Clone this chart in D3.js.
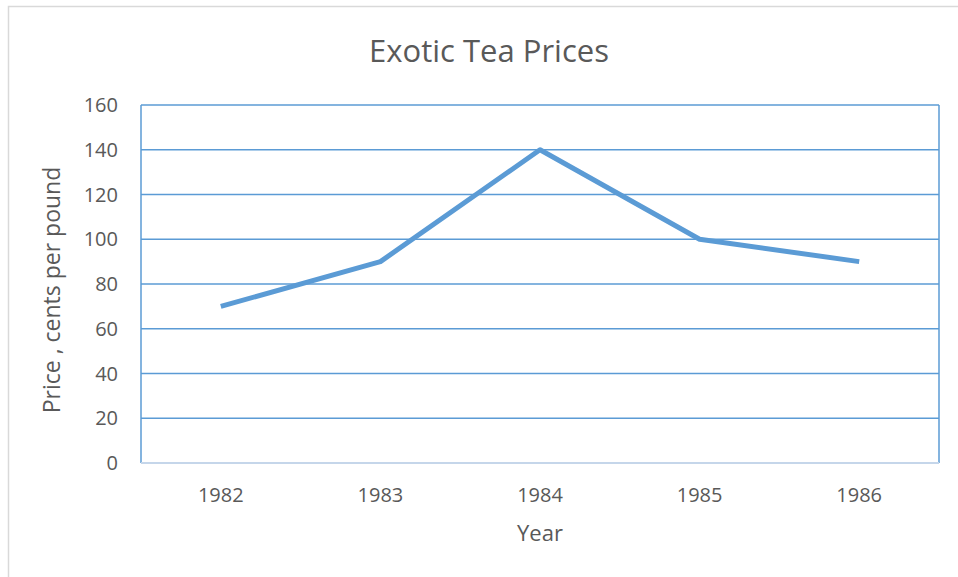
<!DOCTYPE html>
<html>
<head>
<meta charset="utf-8">
<script src="https://cdn.jsdelivr.net/npm/d3@7"></script>
<style>
    body { margin: 0; background: #fff; }
    text { font-family: "Open Sans", sans-serif; fill: #595959; }
</style>
</head>
<body>
<div id="chart"></div>
<script>
const years = ["1982", "1983", "1984", "1985", "1986"];
const prices = [70, 90, 140, 100, 90];
const yTicks = [0, 20, 40, 60, 80, 100, 120, 140, 160];

const width = 958, height = 577;
const margin = { top: 105, right: 19, bottom: 114, left: 141 };

const svg = d3.select("#chart")
    .append("svg")
    .attr("width", width)
    .attr("height", height);

// Outer frame
svg.append("rect")
    .attr("x", 8.5).attr("y", 6.5)
    .attr("width", width + 10).attr("height", height + 10)
    .attr("fill", "none")
    .attr("stroke", "#d9d9d9")
    .attr("stroke-width", 1.5);

// Scales
const x = d3.scaleBand()
    .domain(years)
    .range([margin.left, width - margin.right]);

const y = d3.scaleLinear()
    .domain([0, 160])
    .range([height - margin.bottom, margin.top]);

// Gridlines
svg.append("g")
    .selectAll("line")
    .data(yTicks.filter(d => d > 0))
    .join("line")
    .attr("x1", margin.left).attr("x2", width - margin.right)
    .attr("y1", d => y(d)).attr("y2", d => y(d))
    .attr("stroke", "#5b9bd5")
    .attr("stroke-width", 1.5);

// Side borders of plot
[margin.left, width - margin.right].forEach(px => {
    svg.append("line")
        .attr("x1", px).attr("x2", px)
        .attr("y1", y(160)).attr("y2", y(0))
        .attr("stroke", "#5b9bd5")
        .attr("stroke-width", 1.5);
});

// Bottom axis line
svg.append("line")
    .attr("x1", margin.left).attr("x2", width - margin.right)
    .attr("y1", y(0)).attr("y2", y(0))
    .attr("stroke", "#c5d6ea")
    .attr("stroke-width", 2);

// Y tick labels
svg.append("g")
    .selectAll("text")
    .data(yTicks)
    .join("text")
    .attr("x", 118)
    .attr("y", d => y(d))
    .attr("dy", "0.35em")
    .attr("text-anchor", "end")
    .style("font-size", "20px")
    .text(d => d);

// X tick labels
svg.append("g")
    .selectAll("text")
    .data(years)
    .join("text")
    .attr("x", d => x(d) + x.bandwidth() / 2)
    .attr("y", 502)
    .attr("text-anchor", "middle")
    .style("font-size", "20px")
    .text(d => d);

// Line
const line = d3.line()
    .x((d, i) => x(years[i]) + x.bandwidth() / 2)
    .y(d => y(d));

svg.append("path")
    .datum(prices)
    .attr("d", line)
    .attr("fill", "none")
    .attr("stroke", "#5b9bd5")
    .attr("stroke-width", 5)
    .attr("stroke-linejoin", "round");

// Titles
svg.append("text")
    .attr("x", 489).attr("y", 62)
    .attr("text-anchor", "middle")
    .style("font-size", "31px")
    .text("Exotic Tea Prices");

svg.append("text")
    .attr("x", 540).attr("y", 541)
    .attr("text-anchor", "middle")
    .style("font-size", "22px")
    .text("Year");

svg.append("text")
    .attr("transform", "translate(60,290) rotate(-90)")
    .attr("text-anchor", "middle")
    .style("font-size", "23px")
    .text("Price , cents per pound");
</script>
</body>
</html>
